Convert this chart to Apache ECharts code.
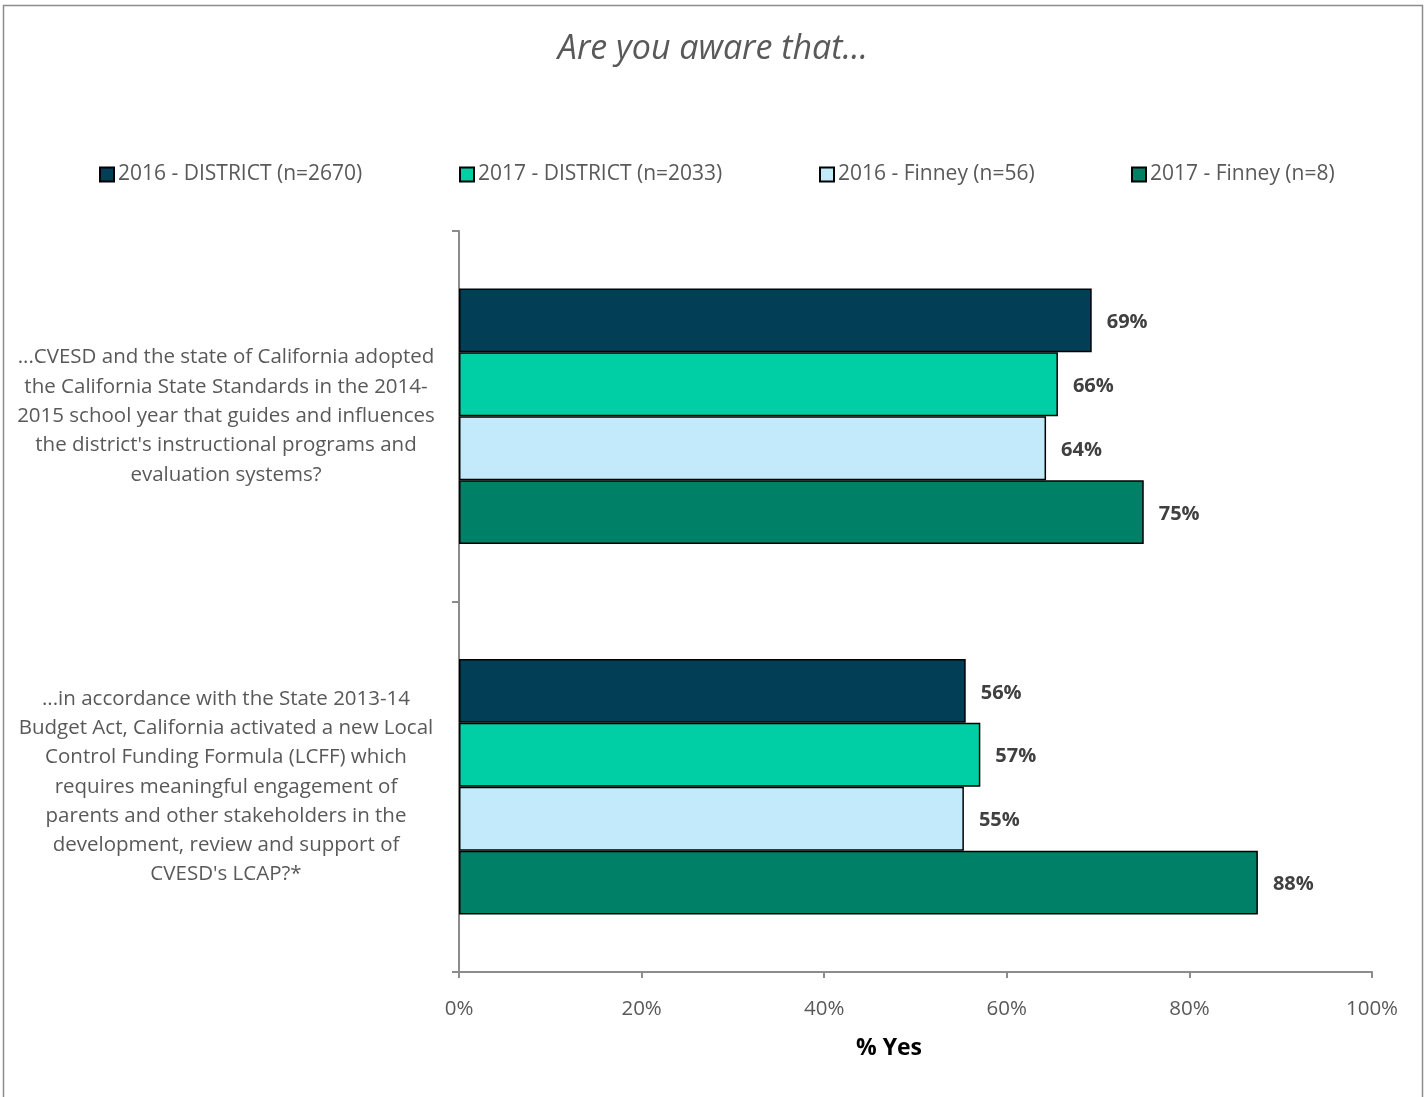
<!DOCTYPE html>
<html>
<head>
<meta charset="utf-8">
<script src="https://cdn.jsdelivr.net/npm/echarts@6/dist/echarts.min.js"></script>
<style>
html,body{margin:0;padding:0;background:#fff;}
#chart{width:1426px;height:1097px;}
</style>
</head>
<body>
<div id="chart"></div>
<script>
const categories = [
  "...CVESD and the state of California adopted\nthe California State Standards in the 2014-\n2015 school year that guides and influences\nthe district's instructional programs and\nevaluation systems?",
  "...in accordance with the State 2013-14\nBudget Act, California activated a new Local\nControl Funding Formula (LCFF) which\nrequires meaningful engagement of\nparents and other stakeholders in the\ndevelopment, review and support of\nCVESD's LCAP?*"
];
const seriesNames = ["2016 - DISTRICT (n=2670)", "2017 - DISTRICT (n=2033)", "2016 - Finney (n=56)", "2017 - Finney (n=8)"];
const district2016 = [69.3, 55.5];
const district2017 = [65.6, 57.1];
const finney2016 = [64.3, 55.3];
const finney2017 = [75.0, 87.5];
const xTicks = [0, 20, 40, 60, 80, 100];
const colors = ["#023F56", "#00CFA6", "#C2EAFA", "#008066"];
const seriesData = [district2016, district2017, finney2016, finney2017];
const legendLefts = [99, 459, 819, 1131];

const chart = echarts.init(document.getElementById('chart'));
const font = "'Open Sans', 'Noto Sans', sans-serif";
const gray = '#595959';

const option = {
  backgroundColor: '#fff',
  animation: false,
  textStyle: { fontFamily: font },
  title: {
    text: 'Are you aware that...',
    left: 'center',
    top: 32,
    padding: 0,
    textStyle: { fontFamily: font, fontStyle: 'italic', fontWeight: 'normal', fontSize: 34, color: gray }
  },
  legend: seriesNames.map((n, i) => ({
    data: [n],
    left: legendLefts[i],
    top: 164,
    padding: 0,
    itemWidth: 14,
    itemHeight: 14,
    itemGap: 4,
    icon: 'rect',
    textStyle: { fontFamily: font, fontSize: 21, color: gray, padding: [0, 0, 0, -1] }
  })),
  grid: { left: 459, right: 54, top: 231, bottom: 125, containLabel: false },
  xAxis: {
    type: 'value',
    min: 0, max: 100, interval: 20,
    axisLine: { show: true, lineStyle: { color: '#8C8C8C', width: 2 } },
    axisTick: { show: true, length: 6, lineStyle: { color: '#8C8C8C', width: 2 } },
    splitLine: { show: false },
    axisLabel: {
      margin: 27,
      fontFamily: font, fontSize: 20.5, color: gray,
      formatter: v => xTicks.includes(v) ? v + '%' : ''
    }
  },
  yAxis: {
    type: 'category',
    inverse: true,
    data: categories,
    axisLine: { show: true, lineStyle: { color: '#8C8C8C', width: 2 } },
    axisTick: { show: true, length: 7, lineStyle: { color: '#8C8C8C', width: 2 } },
    axisLabel: {
      margin: 233,
      align: 'center',
      fontFamily: font, fontSize: 20.5, color: gray, lineHeight: 29.3
    }
  },
  series: seriesNames.map((n, i) => ({
    name: n,
    type: 'bar',
    data: seriesData[i],
    barGap: '0%',
    barCategoryGap: '31%',
    itemStyle: { color: colors[i], borderColor: '#000', borderWidth: 1.5 },
    label: {
      show: true,
      position: 'right',
      distance: 15,
      offset: [0, 2],
      fontFamily: font, fontSize: 20, fontWeight: 'bold', color: '#404040',
      formatter: p => Math.round(p.value) + '%'
    }
  })),
  graphic: [
    {
      type: 'rect',
      shape: { x: 3.5, y: 5.5, width: 1419, height: 1100 },
      style: { fill: 'none', stroke: '#8C8C8C', lineWidth: 1.5 },
      silent: true
    },
    {
      type: 'text',
      x: 889, y: 1048,
      style: { text: '% Yes', fontFamily: font, fontSize: 23, fontWeight: 'bold', fill: '#000', align: 'center', verticalAlign: 'middle' }
    }
  ]
};
chart.setOption(option);
</script>
</body>
</html>
